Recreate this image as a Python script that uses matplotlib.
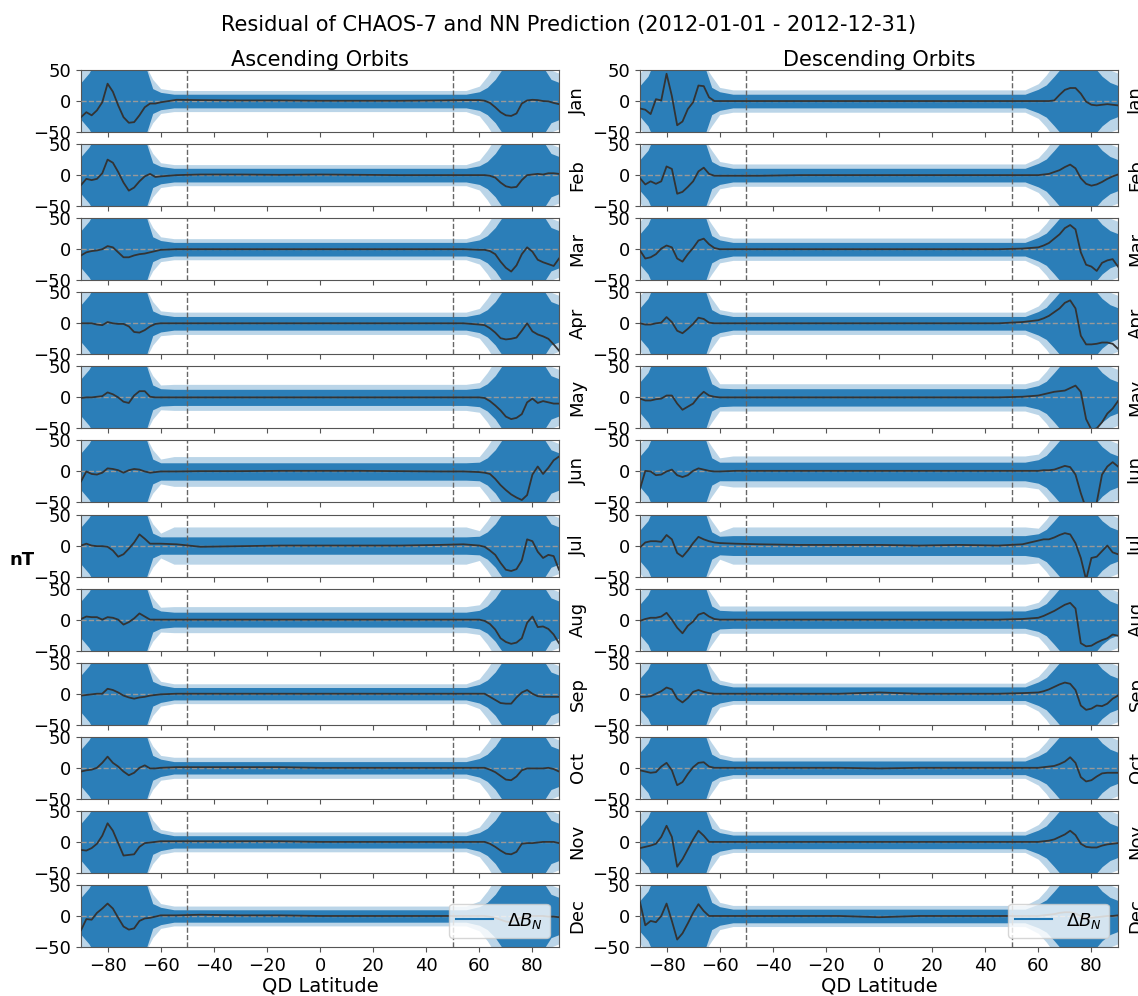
import numpy as np
import matplotlib
matplotlib.use("Agg")
import matplotlib.pyplot as plt
from matplotlib.lines import Line2D

MONTHS = ["Jan", "Feb", "Mar", "Apr", "May", "Jun", "Jul", "Aug", "Sep", "Oct", "Nov", "Dec"]

# latitude knots of the mean residual curves
LAT = [-90, -88, -86, -84, -82, -80, -78, -76, -74, -72, -70, -68, -66, -64, -62, -60,
       -54, -45, -30, -15, 0, 15, 30, 45, 54,
       60, 62, 64, 66, 68, 70, 72, 74, 76, 78, 80, 82, 84, 86, 88, 90]

ASC_MEAN = [
    [-26, -18, -23, -15, -2, 28, 15, -7, -26, -35, -34, -23, -10, -4, -4, -2,
     2, 1.5, 1, 1, 0.5, 0.5, 0.5, 1, 1.5,
     1.5, 0.5, -3, -10, -18, -23, -24, -20, -4, 1, 2, 1.5, 0, -0.5, -3, -5],
    [-16, -6, -8, -6, 3, 25, 20, 5, -12, -25, -20, -10, -2, 2, -3, -2,
     0, 1, 1, 0.5, 1, 0.5, 0, 0, 0,
     0, 0, -1, -4, -12, -18, -20, -19, -8, 0, 1, 2, 1, 3, 3, 2],
    [-10, -5, -3, -2, 0, 5, 3, -5, -13, -13, -10, -8, -7, -5, -3, -1,
     0, 0, 0, 0, 0, 0, 0, 0, 0,
     -1, -1, -3, -8, -20, -30, -36, -26, -8, 3, -4, -17, -21, -24, -27, -15],
    [0, 0, 0, -2, -3, 2, 0, -1, -1, -5, -14, -15, -11, -5, -1, 0,
     0, 0, 0, 0, 0, 0, 0, 0, 0,
     -2, -3, -8, -15, -24, -26, -25, -23, -12, 0, -13, -18, -21, -25, -34, -44],
    [-1, 0, 0, 1, 2, 8, 5, 0, -7, -9, 3, 10, 10, 1, 0, 0,
     0, 0, 0, 0, 0, 0, 0, 0, 0,
     0, -1, -6, -13, -21, -31, -35, -33, -27, -8, -2, -9, -6, -8, -10, -10],
    [-16, 0, -4, -5, -2, 5, 4, 2, -2, 2, 4, 3, 0, -2, -1, 0,
     0, 0.5, 0.5, 1, 1, 1, 0.5, 0, 0,
     -1, -2, -4, -12, -22, -30, -37, -42, -46, -38, -5, 8, -4, 6, 18, 24],
    [0, 3, 0, -1, -1, -2, -8, -18, -14, -5, 5, 18, 11, 3, 3, 3,
     2, -2, -1, 0, 0, 0, 0, 1, 2,
     0, -2, -8, -15, -28, -39, -41, -38, -24, 10, 7, -10, -20, -15, -17, -39],
    [1, 5, 4, 4, 0, 4, 3, 0, -8, -4, 2, 10, 5, 0, 0, 0,
     0, 0, 0, 0, 0, 0, 0, 0, 0,
     0, -2, -7, -16, -30, -36, -39, -37, -30, -5, 5, -12, -11, -15, -24, -38],
    [-3, -2, -1, 0, 0, 8, 6, 2, -3, -6, -8, -6, -5, -3, -2, -1,
     0, 0, 0, 0, 0, 0, 0, 0, 0,
     0, 0, -5, -10, -15, -16, -16, -6, 2, 6, 0, -4, -5, -5, -5, -5],
    [-6, -4, -3, 0, 8, 18, 8, 2, -6, -12, -8, 0, 4, -1, -1, 0,
     1, 1, 1, 1, 0, 0, 0, 0, 0,
     0, 0, -3, -7, -13, -19, -20, -14, -4, -1, -1, -1, -1, 0, -2, -6],
    [-13, -14, -10, -3, 10, 30, 18, -2, -22, -21, -20, -8, -2, -1, 0, 1,
     1, 1, 1, 1, 0, 0, 0, 0, 0,
     0, 0, -3, -8, -14, -19, -20, -16, -3, -2, -2, -1, 0, 0, 0, -2],
    [-23, -5, -6, 5, 12, 20, 12, -3, -17, -22, -20, -8, -4, -3, -1, 1,
     1, 2, 1, 1, 0, 0, 0, 0, 0,
     0, 0, -1, -3, -6, -9, -10, -6, -2, 0, 0, 0, 0, -1, -1, -2],
]

DESC_MEAN = [
    [-12, -14, -21, 3, 1, 44, 8, -39, -33, -13, -2, 25, 24, 6, 0, 0,
     0, 0, 0, 0, 0, 0, 0, 0, 0,
     0, 0, 0, 1, 10, 18, 21, 21, 12, -1, -6, -7, -6, -5, -6, -7],
    [-5, -15, -10, -14, -10, 14, 10, -30, -27, -19, -10, 6, 12, 2, -1, -1,
     -1, -1, 0, 0, 0, 0, 0, 0, 0,
     0, 1, 2, 5, 8, 13, 17, 11, -5, -14, -17, -15, -11, -6, -2, 1],
    [-2, -15, -13, -8, 1, 6, 3, -15, -20, -8, 2, 14, 17, 8, 2, 0,
     0, 0, 0, 0, 0, 0, 0, 0, 1,
     3, 6, 10, 17, 24, 34, 39, 32, -5, -25, -28, -35, -22, -18, -16, -28],
    [0, -2, -2, 0, 1, 10, 2, -12, -16, -9, -1, 9, 7, 1, 0, 0,
     0, 0, 0, 0, 0, 0, 0, 0, 2,
     5, 8, 12, 18, 24, 33, 37, 24, -20, -34, -34, -33, -31, -31, -33, -41],
    [-2, -5, -5, -3, -2, 3, 3, -10, -20, -15, -10, 1, 9, 3, 1, 0,
     0, 0, 0, 0, 0, 0, 0, 0, 1,
     3, 5, 7, 9, 10, 11, 15, 19, 9, -35, -52, -50, -40, -26, -18, -6],
    [-28, 1, 0, -6, -5, 0, 3, -6, -9, -6, 1, 5, 3, 1, 0, 0,
     1, 1, 1, 1, 1, 1, 1, 1, 1,
     1, 2, 2, 3, 6, 9, 7, -5, -35, -60, -70, -50, -5, 8, 15, 8],
    [-3, 5, 7, 7, 6, 17, 10, -12, -18, -8, 4, 14, 10, 7, 5, 4,
     3, 2, 1, 1, 1, 0, 1, 0, 2,
     8, 10, 10, 13, 17, 20, 18, 4, -20, -55, -20, -18, -9, 0, -11, -14],
    [-2, 1, 3, 3, 5, 11, 0, -13, -22, -10, -3, 8, 11, 5, 1, 0,
     0, 0, 0, 0, 0, 0, 0, 0, 1,
     3, 6, 10, 14, 19, 24, 27, 18, -38, -43, -42, -37, -33, -30, -24, -26],
    [-5, -5, -4, 0, 4, 10, 7, -8, -14, -7, 3, 6, 3, 1, 0, 0,
     0, 0, 0, 0, 2, 0, 0, 0, 1,
     2, 4, 7, 11, 15, 18, 16, 6, -19, -26, -24, -19, -20, -16, -8, -3],
    [-4, -6, -8, -7, 2, 8, -4, -28, -23, -10, 1, 8, 9, 2, 0, 0,
     0, 0, 0, 0, -1, 0, 0, 0, 0,
     0, 1, 2, 3, 6, 10, 17, 8, -15, -22, -20, -14, -9, -8, -8, -8],
    [-10, -8, -6, -3, 8, 26, 8, -40, -28, -12, 4, 18, 10, 0, 0, 0,
     0, 0, 0, 0, 0, 0, 0, 0, 0,
     0, 1, 2, 4, 8, 12, 18, 11, -3, -8, -9, -9, -6, -4, -3, -2],
    [22, -15, -8, -10, 0, 20, -8, -38, -28, -12, 5, 19, 8, 0, 0, 0,
     0, 0, 0, 0, -2, 0, 0, 0, 0,
     0, 1, 2, 3, 5, 6, 6, 4, 0, -3, -3, -2, -1, 0, 0, 1],
]

# spread of the individual orbit residuals (half-widths, nT)
ENV_LAT_S = [-90, -87, -85, -66, -63, -60]
ENV_LAT_M = [-55, 0, 55]
ENV_LAT_N = [60, 63, 66, 70, 80, 84, 87, 90]

ASC_CORE_S = [30, 45, 60, 60, 20, 14]
ASC_OUTER_S = [50, 60, 60, 60, 35, 20]
ASC_CORE_N = [15, 22, 35, 60, 60, 55, 35, 30]
ASC_OUTER_N = [24, 40, 60, 60, 60, 60, 50, 45]
DESC_CORE_S = [25, 40, 60, 60, 22, 15]
DESC_OUTER_S = [45, 60, 60, 60, 40, 22]
DESC_CORE_N = [19, 26, 40, 60, 60, 40, 30, 25]
DESC_OUTER_N = [28, 42, 60, 60, 60, 55, 50, 45]

ASC_MID_CORE = [11, 11, 11, 11, 13, 14, 14, 12, 10, 10, 10, 10]
ASC_MID_OUTER = [17, 17, 17, 18, 21, 24, 30, 21, 16, 17, 16, 16]
DESC_MID_CORE = [11, 11, 11, 11, 14, 15, 16, 14, 11, 11, 11, 11]
DESC_MID_OUTER = [18, 18, 18, 18, 22, 25, 30, 22, 17, 17, 17, 17]

COLUMNS = [
    ("Ascending Orbits", ASC_MEAN, ASC_CORE_S, ASC_OUTER_S, ASC_CORE_N, ASC_OUTER_N,
     ASC_MID_CORE, ASC_MID_OUTER),
    ("Descending Orbits", DESC_MEAN, DESC_CORE_S, DESC_OUTER_S, DESC_CORE_N, DESC_OUTER_N,
     DESC_MID_CORE, DESC_MID_OUTER),
]

BLUE = "#1f77b4"
SPINE = "#555555"

fig = plt.figure(figsize=(11.38, 9.96), dpi=100)
gs = fig.add_gridspec(12, 2, left=0.0712, right=0.9824, top=0.9297, bottom=0.0492,
                      wspace=0.1695, hspace=0.194)

env_lat = np.array(ENV_LAT_S + ENV_LAT_M + ENV_LAT_N, dtype=float)

for c, (title, means, cs, os_, cn, on, mc, mo) in enumerate(COLUMNS):
    for r, month in enumerate(MONTHS):
        ax = fig.add_subplot(gs[r, c])
        core = np.array(cs + [mc[r]] * 3 + cn, dtype=float)
        outer = np.array(os_ + [mo[r]] * 3 + on, dtype=float)
        ax.fill_between(env_lat, -outer, outer, color=BLUE, alpha=0.3, lw=0, zorder=1)
        ax.fill_between(env_lat, -core, core, color=BLUE, alpha=0.92, lw=0, zorder=2)
        ax.axhline(0, color="#999999", ls="--", lw=1.0, zorder=3)
        for xv in (-50, 50):
            ax.axvline(xv, color="#666666", ls="--", lw=1.0, zorder=3)
        ax.plot(LAT, means[r], color="#333333", lw=1.3, zorder=4)
        ax.set_xlim(-90, 90)
        ax.set_ylim(-50, 50)
        ax.set_yticks([-50, 0, 50])
        ax.set_xticks(np.arange(-80, 81, 20))
        ax.tick_params(labelsize=13, color=SPINE)
        for sp in ax.spines.values():
            sp.set_color(SPINE)
        ax.text(1.02, 0.5, month, rotation=90, transform=ax.transAxes,
                ha="left", va="center", fontsize=13)
        if r == 0:
            ax.set_title(title, fontsize=15, pad=3)
        if r == 11:
            ax.set_xlabel("QD Latitude", fontsize=14, labelpad=1)
            ax.legend([Line2D([0], [0], color=BLUE, lw=1.5)], [r"$\Delta B_N$"],
                      loc="lower right", fontsize=13)
        else:
            ax.tick_params(labelbottom=False)

fig.suptitle("Residual of CHAOS-7 and NN Prediction (2012-01-01 - 2012-12-31)",
             fontsize=15, y=0.985)
fig.text(0.019, 0.438, "nT", fontsize=13, fontweight="bold", ha="center", va="center")

fig.savefig("out.png", dpi=100)
